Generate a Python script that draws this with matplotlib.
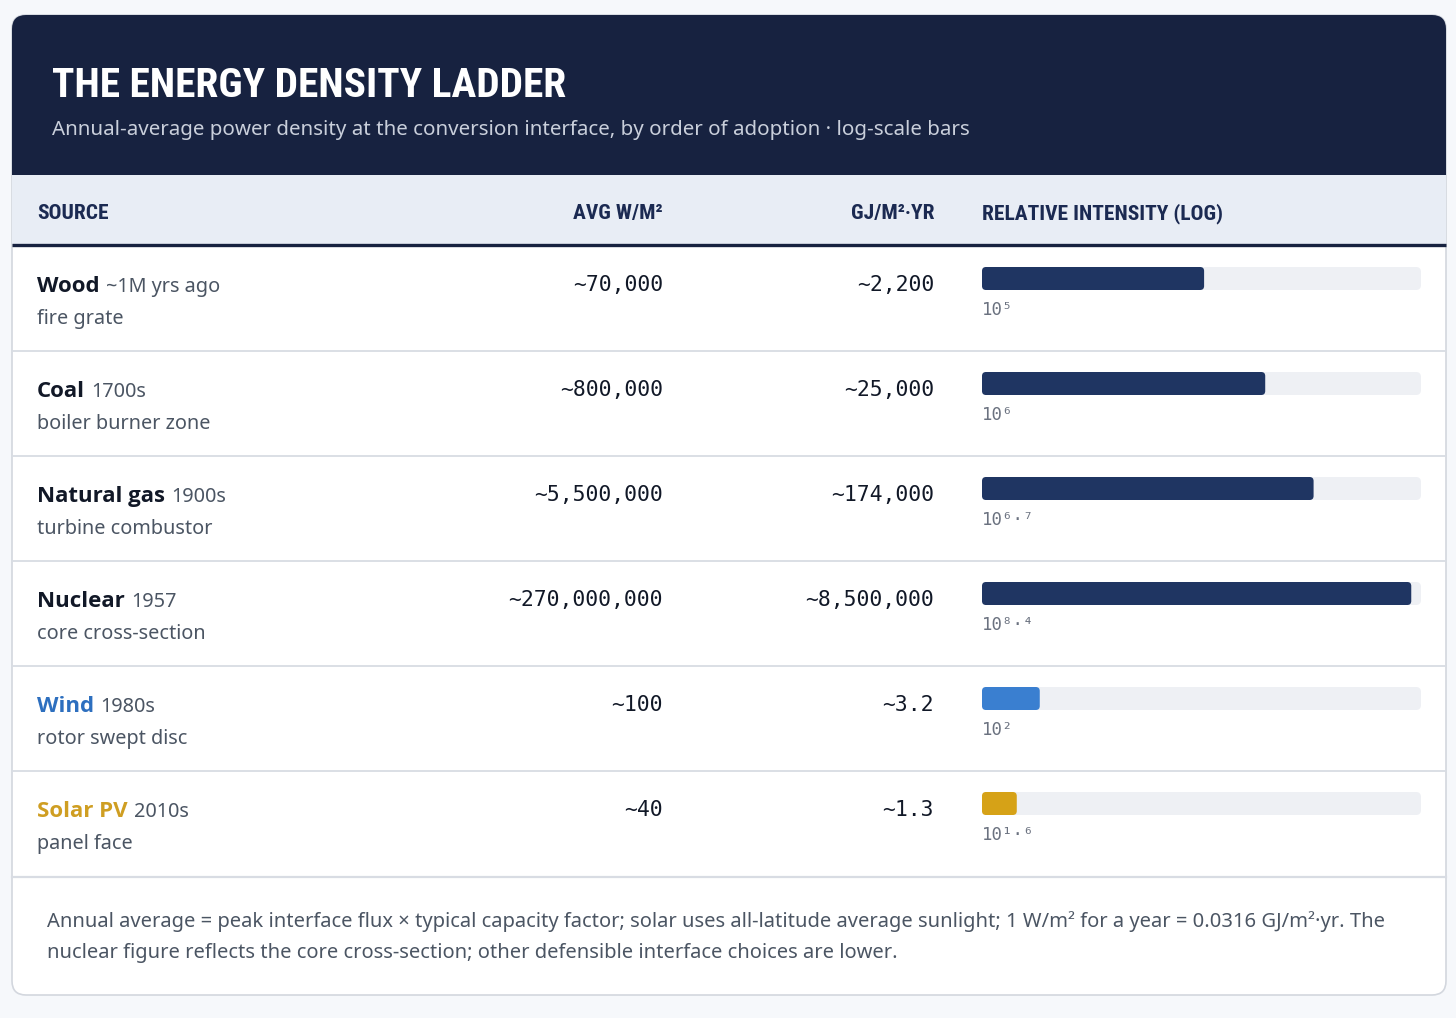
import matplotlib
matplotlib.use('Agg')
import matplotlib.pyplot as plt
from matplotlib import font_manager as fm
from matplotlib.patches import FancyBboxPatch, Rectangle

W, H = 1456, 1018

# ---- data ----
sources = ['Wood', 'Coal', 'Natural gas', 'Nuclear', 'Wind', 'Solar PV']
eras = ['~1M yrs ago', '1700s', '1900s', '1957', '1980s', '2010s']
interfaces = ['fire grate', 'boiler burner zone', 'turbine combustor',
              'core cross-section', 'rotor swept disc', 'panel face']
avg_wm2 = [70_000, 800_000, 5_500_000, 270_000_000, 100, 40]
gj_m2_yr = [2_200, 25_000, 174_000, 8_500_000, 3.2, 1.3]
exp_labels = ['10⁵', '10⁶', '10⁶·⁷', '10⁸·⁴', '10²', '10¹·⁶']
log_range = (10, 10 ** 8.6)

title = 'THE ENERGY DENSITY LADDER'
subtitle = ('Annual-average power density at the conversion interface, '
            'by order of adoption · log-scale bars')
columns = ['SOURCE', 'AVG W/M²', 'GJ/M²·YR', 'RELATIVE INTENSITY (LOG)']
footnote = [
    'Annual average = peak interface flux × typical capacity factor; solar uses '
    'all-latitude average sunlight; 1 W/m² for a year = 0.0316 GJ/m²·yr. The',
    'nuclear figure reflects the core cross-section; other defensible interface '
    'choices are lower.',
]

# ---- colours ----
NAVY = '#172240'
HEAD_ROW = '#e8edf5'
BAR_NAVY = '#1f3562'
TRACK = '#eef0f4'
SEP = '#d8dce3'
DARK = '#111827'
GREY = '#4b5563'
LIGHT_GREY = '#6b7280'
bar_colors = [BAR_NAVY] * 4 + ['#3a7fd0', '#d6a217']
name_colors = [DARK] * 4 + ['#2d6fbf', '#cf9e22']

fonts = fm.fontManager.ttflist


def weight_of(f):
    w = f.weight
    if isinstance(w, str):
        return fm.weight_dict.get(w.lower(), 400)
    return w


def narrow_bold():
    prefs = ['Liberation Sans Narrow', 'Roboto Condensed', 'Open Sans Condensed',
             'Noto Sans Condensed', 'DejaVu Sans Condensed']
    for p in prefs:
        for f in fonts:
            if f.name == p and weight_of(f) == 700 and f.style == 'normal':
                return fm.FontProperties(fname=f.fname)
    for f in fonts:
        s = f.fname.lower()
        if ('condensed' in s or 'narrow' in s) and 'bold' in s \
                and 'italic' not in s and 'oblique' not in s and 'semibold' not in s \
                and 'extrabold' not in s:
            return fm.FontProperties(fname=f.fname)
    return fm.FontProperties(family='DejaVu Sans', weight='bold')


def face(families, weight):
    # static face of a family at the wanted weight, if there is one
    for fam in families:
        for f in fonts:
            if f.name == fam and weight_of(f) == weight and f.style == 'normal' \
                    and 'condensed' not in f.fname.lower():
                return fm.FontProperties(fname=f.fname)
    return fm.FontProperties(family='DejaVu Sans',
                             weight='bold' if weight >= 700 else 'normal')


body_pref = ['Noto Sans', 'Open Sans', 'Lato', 'Inter', 'Roboto']
body = face(body_pref, 400)
body_bold = face(body_pref, 700)
MONO = 'DejaVu Sans Mono'
cond = narrow_bold()

fig = plt.figure(figsize=(W / 100, H / 100), dpi=100)
fig.patch.set_facecolor('#f6f8fb')
ax = fig.add_axes([0, 0, 1, 1])
ax.set_xlim(0, W)
ax.set_ylim(H, 0)
ax.axis('off')
renderer = fig.canvas.get_renderer()


def width_px(t):
    return t.get_window_extent(renderer=renderer).width


def fit(text_obj, target, base):
    size = base * target / width_px(text_obj)
    text_obj.set_fontsize(size)
    return size


# card
ax.add_patch(FancyBboxPatch((12, 15), 1434, 980,
                            boxstyle='round,pad=0,rounding_size=14',
                            fc='white', ec='#d3d7de', lw=1.2, zorder=1))
# dark title band
ax.add_patch(FancyBboxPatch((12, 15), 1434, 160,
                            boxstyle='round,pad=0,rounding_size=14',
                            fc=NAVY, ec='none', zorder=2))
ax.add_patch(Rectangle((12, 100), 1434, 75, fc=NAVY, ec='none', zorder=2))

t = ax.text(52, 97, title, color='white', fontproperties=cond, fontsize=34,
            va='baseline', ha='left', zorder=5)
fit(t, 515, 34)

t = ax.text(52, 135, subtitle, color='#c9cfdb', fontproperties=body, fontsize=15,
            va='baseline', ha='left', zorder=5)
fit(t, 920, 15)

# column header row
ax.add_patch(Rectangle((12, 175), 1434, 69, fc=HEAD_ROW, ec='none', zorder=2))
ax.plot([12, 1446], [245, 245], color=NAVY, lw=2.4, zorder=3,
        solid_capstyle='butt')

hx = [37, 663, 934, 982]
ha = ['left', 'right', 'right', 'left']
ht = ax.text(hx[3], 219, columns[3], color='#1b2a52', fontproperties=cond,
             fontsize=16, va='baseline', ha=ha[3], zorder=5)
hsize = fit(ht, 241, 16)
for i in range(3):
    ax.text(hx[i], 219, columns[i], color='#1b2a52', fontproperties=cond,
            fontsize=hsize, va='baseline', ha=ha[i], zorder=5)

# log-scaled axes over the bar column; used for bar lengths
row_h = 105
top0 = 246
track_x0, track_x1 = 982, 1421
bx = fig.add_axes([track_x0 / W, 1 - (top0 + 6 * row_h) / H,
                   (track_x1 - track_x0) / W, 6 * row_h / H])
bx.set_xscale('log')
bx.set_xlim(*log_range)
bx.set_ylim(6, 0)
bx.axis('off')


def to_px(v):
    disp = bx.transData.transform((v, 0))
    return ax.transData.inverted().transform(disp)[0]


for i, src in enumerate(sources):
    top = top0 + i * row_h
    if i > 0:
        ax.plot([12, 1446], [top, top], color=SEP, lw=1.3, zorder=3)
    nt = ax.text(37, top + 46, src, color=name_colors[i], fontproperties=body_bold,
                 fontsize=16, va='baseline', ha='left', zorder=5)
    ax.text(37 + width_px(nt) + 6, top + 46, eras[i], color=GREY,
            fontproperties=body, fontsize=14.3, va='baseline', ha='left', zorder=5)
    ax.text(37, top + 78, interfaces[i], color=GREY, fontproperties=body,
            fontsize=14.3, va='baseline', ha='left', zorder=5)

    ax.text(663, top + 45, f'~{avg_wm2[i]:,}', color=DARK, family=MONO,
            fontsize=15.4, va='baseline', ha='right', zorder=5)
    g = gj_m2_yr[i]
    glab = f'~{g:,.0f}' if g >= 100 else f'~{g}'
    ax.text(934, top + 45, glab, color=DARK, family=MONO,
            fontsize=15.4, va='baseline', ha='right', zorder=5)

    # track and bar
    x0 = to_px(log_range[0])
    x1 = to_px(log_range[1])
    xv = to_px(avg_wm2[i])
    ax.add_patch(FancyBboxPatch((x0, top + 21), x1 - x0, 23,
                                boxstyle='round,pad=0,rounding_size=5',
                                fc=TRACK, ec='none', zorder=3))
    ax.add_patch(FancyBboxPatch((x0, top + 21), xv - x0, 23,
                                boxstyle='round,pad=0,rounding_size=4',
                                fc=bar_colors[i], ec='none', zorder=4))
    ax.text(x0, top + 69, exp_labels[i], color=LIGHT_GREY, family=MONO,
            fontsize=12.5, va='baseline', ha='left', zorder=5)

ax.plot([12, 1446], [877, 877], color=SEP, lw=1.6, zorder=3)

ft = ax.text(47, 927, footnote[0], color=GREY, fontproperties=body, fontsize=14,
             va='baseline', ha='left', zorder=5)
fsize = fit(ft, 1334, 14)
ax.text(47, 958, footnote[1], color=GREY, fontproperties=body, fontsize=fsize,
        va='baseline', ha='left', zorder=5)

fig.savefig('out.png', dpi=100, facecolor=fig.get_facecolor())
